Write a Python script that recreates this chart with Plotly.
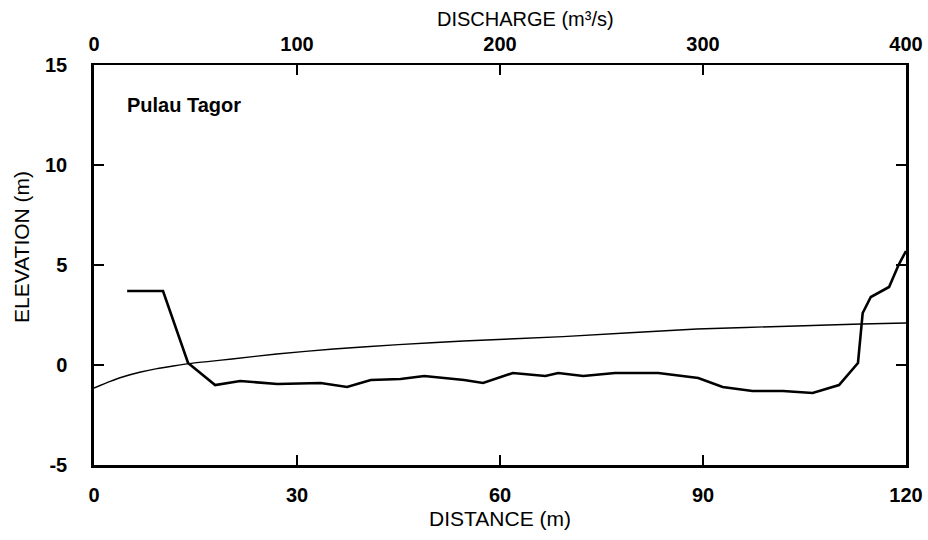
import plotly.graph_objects as go

# Channel cross-section: distance across the river (m) and bed elevation (m)
distance_m = [4.9, 10.2, 13.9, 17.9, 21.6, 27.1, 33.5, 37.4, 40.9, 45.3, 48.8,
              54.7, 57.5, 61.9, 66.7, 68.6, 72.3, 77.0, 83.4, 89.3, 92.9, 97.3,
              101.8, 106.2, 110.1, 112.9, 113.6, 114.8, 117.5, 118.9, 120.0]
bed_elevation_m = [3.7, 3.7, 0.1, -1.0, -0.8, -0.95, -0.9, -1.1, -0.75, -0.7, -0.55,
                   -0.75, -0.9, -0.4, -0.55, -0.4, -0.55, -0.4, -0.4, -0.65, -1.1, -1.3,
                   -1.3, -1.4, -1.0, 0.1, 2.6, 3.4, 3.9, 5.0, 5.7]

# Stage-discharge rating curve: discharge (m3/s) and water level (m)
discharge_m3s = [0, 8, 14, 23, 31, 39, 47, 57, 68, 90, 118, 150, 182, 231, 297, 346, 378, 400]
stage_m = [-1.15, -0.82, -0.6, -0.35, -0.18, -0.05, 0.07, 0.18, 0.3, 0.55, 0.8, 1.02,
           1.2, 1.42, 1.8, 1.95, 2.05, 2.1]

x_ticks = [0, 30, 60, 90, 120]
q_ticks = [0, 100, 200, 300, 400]
y_ticks = [-5, 0, 5, 10, 15]
y_tick_labels = ["-5", "0", "5", "10", "15"]

FONT = "Liberation Sans, Arial, sans-serif"

fig = go.Figure()
fig.add_trace(go.Scatter(
    x=distance_m, y=bed_elevation_m, mode="lines",
    line=dict(color="black", width=2.6), xaxis="x", yaxis="y",
    showlegend=False, hoverinfo="skip",
))
fig.add_trace(go.Scatter(
    x=discharge_m3s, y=stage_m, mode="lines",
    line=dict(color="black", width=1.4, shape="spline", smoothing=0.6),
    xaxis="x2", yaxis="y", showlegend=False, hoverinfo="skip",
))

tickfont = dict(family=FONT, size=20, color="black", weight="bold")
titlefont = dict(family=FONT, size=21, color="black")

fig.update_layout(
    width=928, height=540,
    margin=dict(l=94, r=22, t=65, b=75, autoexpand=False),
    paper_bgcolor="white", plot_bgcolor="white",
    xaxis=dict(
        range=[0, 120], tickvals=x_ticks, ticks="inside", ticklen=10, tickwidth=2,
        tickcolor="black", showline=True, linecolor="black", linewidth=2.5,
        showgrid=False, zeroline=False, tickfont=tickfont, automargin=False,
        title=dict(text="DISTANCE (m)", font=titlefont, standoff=7),
        ticklabelstandoff=10,
    ),
    xaxis2=dict(
        range=[0, 400], tickvals=q_ticks, ticks="inside", ticklen=10, tickwidth=2,
        tickcolor="black", showline=True, linecolor="black", linewidth=1.5,
        showgrid=False, zeroline=False, tickfont=tickfont, automargin=False,
        overlaying="x", side="top", anchor="y",
        ticklabelstandoff=4,
    ),
    yaxis=dict(
        range=[-5, 15], tickvals=y_ticks, ticktext=y_tick_labels,
        ticks="inside", ticklen=10, tickwidth=2,
        tickcolor="black", showline=True, linecolor="black", linewidth=2.5,
        mirror="ticks", showgrid=False, zeroline=False, tickfont=tickfont,
        automargin=False, ticklabelstandoff=20,
    ),
    annotations=[
        dict(text="Pulau Tagor", x=0.038, y=0.9, xref="paper", yref="paper",
             xanchor="left", yanchor="middle", showarrow=False,
             font=dict(family=FONT, size=20, color="black", weight="bold")),
        # top axis title (discharge scale)
        dict(text="DISCHARGE (m³/s)", x=0.532, y=1.114, xref="paper", yref="paper",
             xanchor="center", yanchor="middle", showarrow=False,
             font=dict(family=FONT, size=20, color="black")),
        # left axis title
        dict(text="ELEVATION (m)", x=-0.0887, y=0.545, xref="paper", yref="paper",
             xanchor="center", yanchor="middle", showarrow=False, textangle=-90,
             font=titlefont),
    ],
)

fig.write_html("out.html")
